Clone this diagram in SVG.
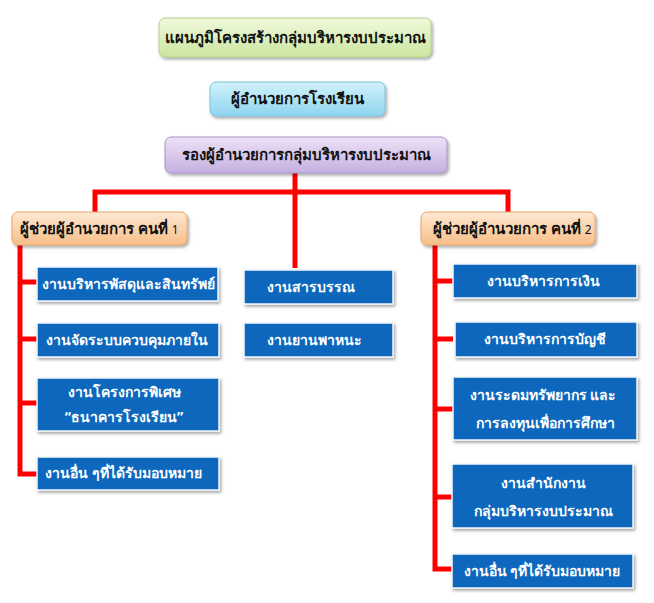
<svg xmlns="http://www.w3.org/2000/svg" width="654" height="603" viewBox="0 0 654 603">
<defs>
<linearGradient id="gGreen" x1="0" y1="0" x2="0" y2="1"><stop offset="0" stop-color="#f1f9dc"/><stop offset="1" stop-color="#cbe5a0"/></linearGradient>
<linearGradient id="gBlue" x1="0" y1="0" x2="0" y2="1"><stop offset="0" stop-color="#d2f1fb"/><stop offset="1" stop-color="#8fd5ef"/></linearGradient>
<linearGradient id="gLav" x1="0" y1="0" x2="0" y2="1"><stop offset="0" stop-color="#ece2f6"/><stop offset="1" stop-color="#c6afe0"/></linearGradient>
<linearGradient id="gOr" x1="0" y1="0" x2="0" y2="1"><stop offset="0" stop-color="#fee8d2"/><stop offset="1" stop-color="#f8be88"/></linearGradient>
<filter id="sh" x="-10%" y="-20%" width="125%" height="150%"><feDropShadow dx="1.5" dy="2" stdDeviation="1.5" flood-color="#000" flood-opacity="0.35"/></filter>
</defs>
<style>
text{font-family:"Noto Sans","DejaVu Sans",sans-serif;font-weight:bold;}
.hd{font-size:15px;fill:#111;}
.wt{font-size:14px;fill:#fff;}
.blue{fill:#0a68bd;stroke:#f4f6f8;stroke-width:1.5;filter:url(#sh);}
.conn{stroke:#ff0000;stroke-width:5;fill:none;}
</style>
<rect width="654" height="603" fill="#fff"/>
<g id="connectors">
<path class="conn" d="M295,173 V268"/>
<path class="conn" d="M95,212 V192 H508 V212"/>
<path class="conn" d="M20,245 V474 H37"/>
<path class="conn" d="M20,282 H37 M20,339 H37 M20,403 H37"/>
<path class="conn" d="M435,245 V569 H453"/>
<path class="conn" d="M435,281 H453 M435,339 H453 M435,409 H453 M435,497 H453"/>
</g>
<g id="title"><rect x="159" y="18" width="272" height="39" rx="6" fill="url(#gGreen)" stroke="#b6d08a" filter="url(#sh)"/><text class="hd" x="295" y="43" text-anchor="middle">แผนภูมิโครงสร้างกลุ่มบริหารงบประมาณ</text></g>
<g id="director"><rect x="210" y="82" width="175" height="34" rx="6" fill="url(#gBlue)" stroke="#7cc2dc" filter="url(#sh)"/><text class="hd" x="297" y="104" text-anchor="middle">ผู้อำนวยการโรงเรียน</text></g>
<g id="deputy"><rect x="165" y="137" width="282" height="36" rx="6" fill="url(#gLav)" stroke="#a893c8" filter="url(#sh)"/><text class="hd" x="306" y="160" text-anchor="middle">รองผู้อำนวยการกลุ่มบริหารงบประมาณ</text></g>
<g id="asst1"><rect x="12" y="212" width="175" height="33" rx="6" fill="url(#gOr)" stroke="#e7a56e" filter="url(#sh)"/><text class="hd" x="20" y="234">ผู้ช่วยผู้อำนวยการ คนที่ <tspan style="font-weight:normal;font-size:12px">1</tspan></text></g>
<g id="asst2"><rect x="421" y="212" width="174" height="33" rx="6" fill="url(#gOr)" stroke="#e7a56e" filter="url(#sh)"/><text class="hd" x="433" y="234">ผู้ช่วยผู้อำนวยการ คนที่ <tspan style="font-weight:normal;font-size:12px">2</tspan></text></g>
<g id="l1"><rect class="blue" x="37" y="267" width="181" height="34"/><text class="wt" x="42" y="289">งานบริหารพัสดุและสินทรัพย์</text></g>
<g id="l2"><rect class="blue" x="37" y="323" width="182" height="34"/><text class="wt" x="46" y="345">งานจัดระบบควบคุมภายใน</text></g>
<g id="l3"><rect class="blue" x="37" y="378" width="182" height="53"/><text class="wt" x="124" y="397" text-anchor="middle">งานโครงการพิเศษ</text><text class="wt" x="124" y="422" text-anchor="middle">“ธนาคารโรงเรียน”</text></g>
<g id="l4"><rect class="blue" x="37" y="457" width="182" height="33"/><text class="wt" x="45" y="478">งานอื่น ๆที่ได้รับมอบหมาย</text></g>
<g id="m1"><rect class="blue" x="244" y="270" width="149" height="34"/><text class="wt" x="267" y="292">งานสารบรรณ</text></g>
<g id="m2"><rect class="blue" x="244" y="323" width="149" height="34"/><text class="wt" x="267" y="345">งานยานพาหนะ</text></g>
<g id="r1"><rect class="blue" x="453" y="264" width="184" height="34"/><text class="wt" x="543" y="286" text-anchor="middle">งานบริหารการเงิน</text></g>
<g id="r2"><rect class="blue" x="455" y="322" width="182" height="35"/><text class="wt" x="545" y="344" text-anchor="middle">งานบริหารการบัญชี</text></g>
<g id="r3"><rect class="blue" x="453" y="377" width="184" height="63"/><text class="wt" x="543" y="400" text-anchor="middle">งานระดมทรัพยากร และ</text><text class="wt" x="545" y="428" text-anchor="middle">การลงทุนเพื่อการศึกษา</text></g>
<g id="r4"><rect class="blue" x="452" y="464" width="181" height="64"/><text class="wt" x="543" y="488" text-anchor="middle">งานสำนักงาน</text><text class="wt" x="543" y="516" text-anchor="middle">กลุ่มบริหารงบประมาณ</text></g>
<g id="r5"><rect class="blue" x="452" y="554" width="181" height="34"/><text class="wt" x="542" y="576" text-anchor="middle">งานอื่น ๆที่ได้รับมอบหมาย</text></g>
</svg>
